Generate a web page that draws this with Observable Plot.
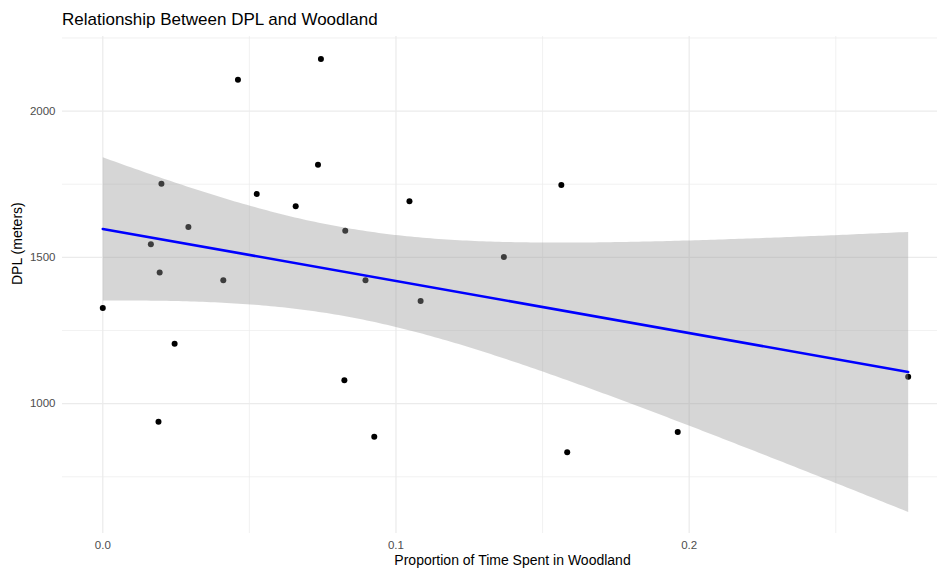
<!DOCTYPE html>
<html>
<head>
<meta charset="utf-8">
<script src="https://cdn.jsdelivr.net/npm/d3@7"></script>
<script src="https://cdn.jsdelivr.net/npm/@observablehq/plot@0.6"></script>
<style>
  html, body { margin: 0; padding: 0; background: #fff; }
  #wrap { position: relative; width: 937px; height: 568px; font-family: "Liberation Sans", Arial, Helvetica, sans-serif; }
  #title { position: absolute; left: 62px; top: 10px; font-size: 17px; line-height: 20px; color: #000; white-space: nowrap; }
</style>
</head>
<body>
<div id="wrap"><div id="title">Relationship Between DPL and Woodland</div></div>
<script>
const woodland = [0.0000, 0.0200, 0.0164, 0.0194, 0.0292, 0.0411, 0.0461, 0.0744, 0.0734, 0.0525,
                  0.0658, 0.0827, 0.0896, 0.1046, 0.1084, 0.1368, 0.1564, 0.0245, 0.0190, 0.0824,
                  0.0926, 0.1584, 0.1961, 0.2747];
const dpl = [1327, 1752, 1545, 1448, 1604, 1422, 2107, 2178, 1817, 1717,
             1675, 1591, 1422, 1692, 1351, 1501, 1747, 1205, 938, 1080,
             887, 834, 903, 1092];
const xMajor = [0, 0.1, 0.2];
const xMinor = [0.05, 0.15, 0.25];
const yMajor = [1000, 1500, 2000];
const yMinor = [750, 1250, 1750, 2250];
const xTitle = "Proportion of Time Spent in Woodland";
const yTitle = "DPL (meters)";

const data = woodland.map((w, i) => ({woodland: w, dpl: dpl[i]}));

const chart = Plot.plot({
  width: 937,
  height: 568,
  marginLeft: 62,
  marginRight: 0,
  marginTop: 36,
  marginBottom: 35,
  style: {fontFamily: '"Liberation Sans", Arial, Helvetica, sans-serif', background: "transparent"},
  x: {domain: [-0.01374, 0.2847]},
  y: {domain: [556, 2255]},
  marks: [
    Plot.gridX(xMinor, {stroke: "#ebebeb", strokeOpacity: 1, strokeWidth: 0.7}),
    Plot.gridY(yMinor, {stroke: "#ebebeb", strokeOpacity: 1, strokeWidth: 0.7}),
    Plot.gridX(xMajor, {stroke: "#ebebeb", strokeOpacity: 1, strokeWidth: 1.2}),
    Plot.gridY(yMajor, {stroke: "#ebebeb", strokeOpacity: 1, strokeWidth: 1.2}),
    Plot.axisX(xMajor, {tickSize: 0, tickPadding: 7, tickFormat: d3.format(".1f"), fontSize: 11.5, fill: "#4d4d4d", label: null}),
    Plot.axisY(yMajor, {tickSize: 0, tickPadding: 7, tickFormat: d => String(d), fontSize: 11.5, fill: "#4d4d4d", label: null}),
    Plot.dot(data, {x: "woodland", y: "dpl", r: 3, fill: "#000", stroke: "none"}),
    Plot.linearRegressionY(data, {x: "woodland", y: "dpl", ci: 0.95, stroke: "#0000ff", strokeWidth: 2.6, fill: "#999999", fillOpacity: 0.4}),
    Plot.text([xTitle], {text: d => d, frameAnchor: "bottom", lineAnchor: "middle", dy: 27, dx: 12.5, fontSize: 14, fill: "#000"}),
    Plot.text([yTitle], {text: d => d, frameAnchor: "left", dx: -45, rotate: -90, fontSize: 14, fill: "#000"})
  ]
});
document.getElementById("wrap").prepend(chart);
chart.style.position = "absolute";
chart.style.left = "0";
chart.style.top = "0";
</script>
</body>
</html>
